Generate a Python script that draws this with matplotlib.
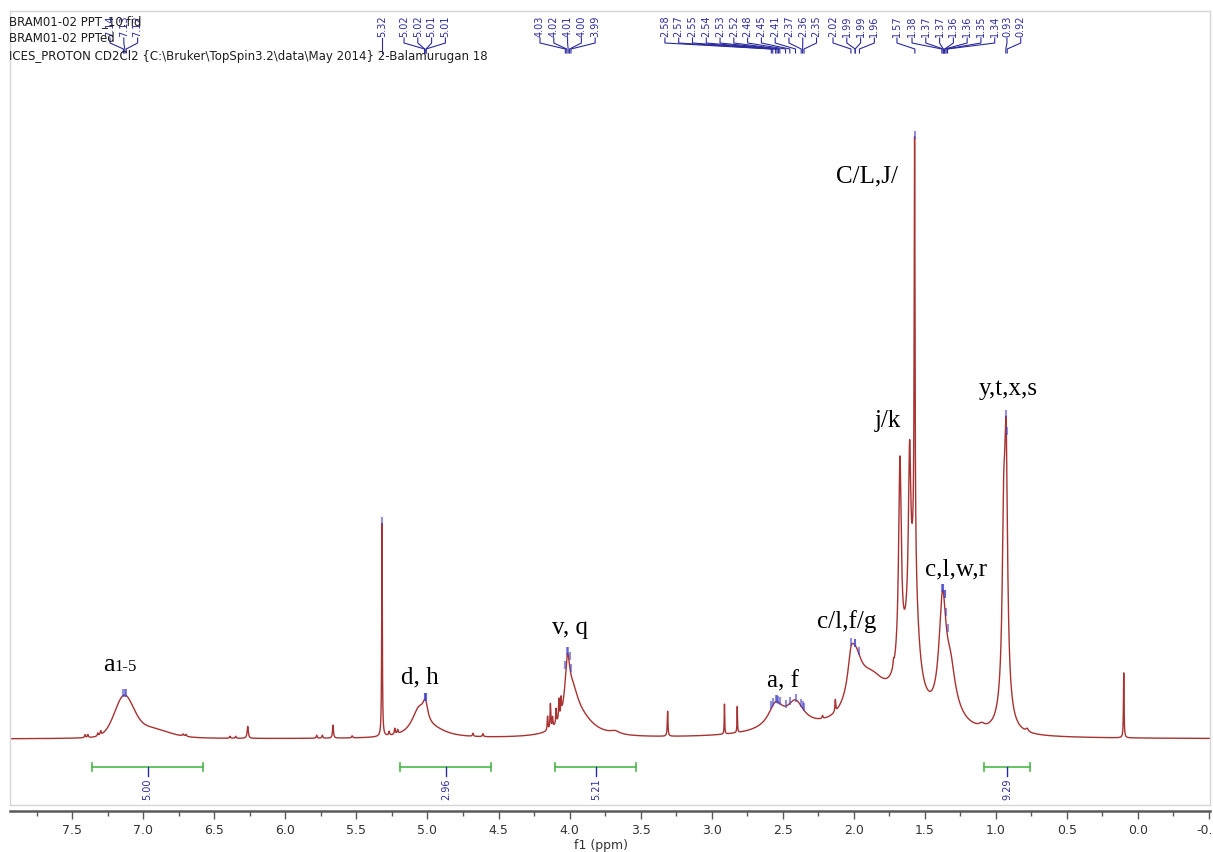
import numpy as np
import matplotlib.pyplot as plt
from matplotlib.transforms import blended_transform_factory

# --- spectrum: picked lines (ppm, height, half width, lorentzian fraction) ---
peak_ppm = [
    7.135, 6.95, 7.41, 7.39, 7.32, 7.30, 6.72, 6.70, 6.39, 6.35, 6.265,
    5.78, 5.74, 5.665, 5.53, 5.32, 5.27, 5.23, 5.21,
    5.06, 5.015, 4.95, 4.68, 4.61,
    4.155, 4.135, 4.12, 4.095, 4.075, 4.06, 4.015, 3.98, 3.93, 3.68,
    3.31, 2.91, 2.82,
    2.55, 2.41, 2.45, 2.22, 2.13,
    2.02, 1.99, 1.88, 1.72,
    1.63, 1.675, 1.607, 1.572, 1.575,
    1.375, 1.32, 1.30, 1.10,
    0.945, 0.928, 0.935, 0.78, 0.10,
]
peak_height = [
    40, 10, 3, 3, 3, 4, 2, 2, 2, 2, 12,
    3, 3, 13, 2, 213, 4, 6, 4,
    26, 18, 6, 3, 3,
    14, 25, 10, 15, 20, 16, 52, 30, 18, 3,
    25, 30, 26,
    22, 22, 8, 3, 12,
    25, 44, 48, 6,
    60, 200, 165, 420, 110,
    112, 40, 12, 3,
    145, 228, 40, 3, 65,
]
peak_hw = [
    0.08, 0.15, 0.004, 0.004, 0.004, 0.004, 0.005, 0.005, 0.004, 0.004, 0.005,
    0.004, 0.004, 0.004, 0.004, 0.0025, 0.004, 0.004, 0.004,
    0.06, 0.02, 0.12, 0.004, 0.004,
    0.003, 0.003, 0.003, 0.003, 0.003, 0.003, 0.02, 0.05, 0.12, 0.04,
    0.003, 0.002, 0.002,
    0.06, 0.07, 0.25, 0.004, 0.003,
    0.025, 0.055, 0.15, 0.004,
    0.09, 0.011, 0.010, 0.0035, 0.03,
    0.03, 0.04, 0.1, 0.02,
    0.012, 0.012, 0.04, 0.01, 0.0025,
]
peak_eta = [0.2, 0.5] + [1.0] * (len(peak_ppm) - 2)

# --- peak picking labels ---
pick_groups = [
    ["7.14", "7.13", "7.12"],
    ["5.32"],
    ["5.02", "5.02", "5.01", "5.01"],
    ["4.03", "4.02", "4.01", "4.00", "3.99"],
    ["2.58", "2.57", "2.55", "2.54", "2.53", "2.52", "2.48", "2.45",
     "2.41", "2.37", "2.36", "2.35"],
    ["2.02", "1.99", "1.99", "1.96"],
    ["1.57"],
    ["1.38", "1.37", "1.37", "1.36", "1.36", "1.35", "1.34"],
    ["0.93", "0.92"],
]
label_start = [7.234, 5.320, 5.165, 4.208, 3.329, 2.146, 1.696, 1.590, 0.922]
label_step = 0.097

# --- integrals ---
int_from = [7.36, 5.19, 4.10, 1.08]
int_to = [6.58, 4.55, 3.53, 0.76]
int_value = ["5.00", "2.96", "5.21", "9.29"]

# --- assignments ---
assign_text = ["C/L,J/", "j/k", "c,l,w,r", "y,t,x,s", "c/l,f/g", "a, f", "v, q", "d, h"]
assign_ppm = [1.91, 1.76, 1.28, 0.915, 2.05, 2.50, 4.00, 5.05]
assign_y = [563, 318, 170, 350, 117, 58, 111, 62]

header = [
    "BRAM01-02 PPT_10.fid",
    "BRAM01-02 PPTed",
    "ICES_PROTON CD2Cl2 {C:\\Bruker\\TopSpin3.2\\data\\May 2014} 2-Balamurugan 18",
]

BLUE = "#2b2b9e"
GREEN = "#4cb84c"
RED = "#a83232"
W, H = 1213, 852
AX_TOP, AX_BOT = 10.5, 805.0


def spectrum(x):
    y = np.zeros_like(x)
    for c, h, w, eta in zip(peak_ppm, peak_height, peak_hw, peak_eta):
        d = (x - c) / w
        y += h * (eta / (1 + d ** 2) + (1 - eta) * np.exp(-np.log(2) * d ** 2))
    return y


def yf(px):
    # pixel row of the figure -> axes fraction
    return (AX_BOT - px) / (AX_BOT - AX_TOP)


fig = plt.figure(figsize=(W / 100, H / 100), dpi=100)
ax = fig.add_axes([10 / W, (H - AX_BOT) / H, 1200 / W, (AX_BOT - AX_TOP) / H])
ax.set_xlim(7.938, -0.507)
ax.set_ylim(-66, 728.5)
ax.set_xticks([])
ax.set_yticks([])
for s in ax.spines.values():
    s.set_color("#d6d6d6")
    s.set_linewidth(1.0)

x = np.linspace(7.938, -0.507, 60000)
y = spectrum(x)
ax.plot(x, y, color=RED, lw=1.0)

trans = blended_transform_factory(ax.transData, ax.transAxes)

# peak pick markers + labels
for group, start in zip(pick_groups, label_start):
    for i, lab in enumerate(group):
        p = float(lab)
        win = np.abs(x - p) < 0.006
        top = y[win].max()
        ax.vlines(p, top - 2, top + 6, color="#4848c8", lw=1.5, alpha=0.6)
        lx = start - i * label_step
        ax.plot([lx, lx, p, p], [yf(38), yf(43), yf(49), yf(53)],
                transform=trans, color=BLUE, lw=0.8, clip_on=False)
        ax.text(lx, yf(37), lab, rotation=90, ha="center", va="bottom",
                fontsize=7, color=BLUE, transform=trans)

# integrals
for a, b, v in zip(int_from, int_to, int_value):
    ax.plot([a, b], [yf(767)] * 2, color=GREEN, lw=1.2, transform=trans)
    for e in (a, b):
        ax.plot([e, e], [yf(763), yf(771)], color=GREEN, lw=1.2, transform=trans)
    m = (a + b) / 2
    ax.plot([m, m], [yf(767), yf(776)], color=BLUE, lw=1.0, transform=trans)
    ax.text(m, yf(778), v, rotation=90, ha="center", va="top",
            fontsize=7, color=BLUE, transform=trans)

# assignments
serif = ["Liberation Serif", "DejaVu Serif"]
for t, px, py in zip(assign_text, assign_ppm, assign_y):
    ax.text(px, py, t, ha="center", va="center", fontsize=18, family=serif)
ax.text(7.20, 68, "a", ha="right", va="baseline", fontsize=19, family=serif)
ax.text(7.20, 68, "1-5", ha="left", va="baseline", fontsize=12, family=serif)

# header
for i, line in enumerate(header):
    fig.text(9 / W, 1 - (25 + 17.5 * i) / H, line, fontsize=8.5,
             color="#1e1e1e", va="baseline")

# ppm axis
axb = fig.add_axes([10 / W, (H - 811) / H, 1200 / W, 1e-5])
axb.set_xlim(7.938, -0.507)
axb.set_yticks([])
for k in ("left", "right", "top"):
    axb.spines[k].set_visible(False)
axb.spines["bottom"].set_color("#5a5a5a")
axb.spines["bottom"].set_linewidth(1.8)
axb.set_xticks(np.arange(-0.5, 7.75, 0.5))
axb.set_xticklabels([f"{v:.1f}" for v in np.arange(-0.5, 7.75, 0.5)])
axb.set_xticks(np.arange(-0.25, 7.9, 0.5), minor=True)
axb.tick_params(axis="x", which="major", direction="out", length=6,
                width=1, color="#5a5a5a", labelsize=9, labelcolor="#333333", pad=3)
axb.tick_params(axis="x", which="minor", direction="out", length=3.5,
                width=1, color="#5a5a5a")
fig.text(601 / W, 1 - 846 / H, "f1 (ppm)", ha="center", va="center",
         fontsize=9, color="#333333")

fig.savefig("out.png", dpi=100)
